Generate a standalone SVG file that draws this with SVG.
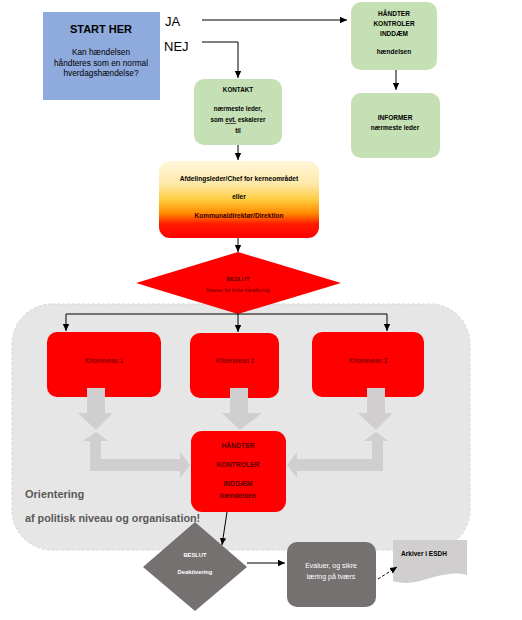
<svg xmlns="http://www.w3.org/2000/svg" width="522" height="620" viewBox="0 0 522 620">
<style>
text{font-family:"Liberation Sans",Arial,sans-serif;text-anchor:middle}
.b{font-weight:bold}
.green{fill:#c5e0b4}
.red{fill:#ff0000}
.dgray{fill:#767171}
.blk{fill:#d0cece}
.line{stroke:#000;stroke-width:1;fill:none}
.dr{fill:#5c0000}
.w{fill:#ffffff}
</style>
<defs>
<marker id="ah" markerWidth="8" markerHeight="8" refX="7" refY="4" orient="auto" markerUnits="userSpaceOnUse">
<path d="M0,0.8 L7,4 L0,7.2 Z" fill="#000"/>
</marker>
<linearGradient id="grad" x1="0" y1="0" x2="0" y2="1">
<stop offset="0" stop-color="#fff5da"/>
<stop offset="0.3" stop-color="#ffe9a8"/>
<stop offset="0.5" stop-color="#ffcc40"/>
<stop offset="0.68" stop-color="#ff8a00"/>
<stop offset="0.82" stop-color="#ff1a00"/>
<stop offset="1" stop-color="#ff0000"/>
</linearGradient>
</defs>

<g id="container">
<rect x="12" y="304" width="458" height="246" rx="40" fill="#e7e6e6" stroke="#d6d6d6" stroke-width="1" stroke-dasharray="3,2"/>
<text x="25" y="498" class="b" style="text-anchor:start;font-size:11px;fill:#595959">Orientering</text>
<text x="25" y="522" class="b" style="text-anchor:start;font-size:10.8px;fill:#595959">af politisk niveau og organisation!</text>
</g>

<g id="start">
<rect x="43" y="12" width="117" height="88" fill="#8faadc"/>
<text x="101" y="33" class="b" style="font-size:11px">START HER</text>
<text x="101" y="55" style="font-size:8.3px">Kan hændelsen</text>
<text x="101" y="65.5" style="font-size:8.3px">håndteres som en normal</text>
<text x="101" y="76" style="font-size:8.3px">hverdagshændelse?</text>
</g>

<g id="ja-label"><text x="165" y="26" style="text-anchor:start;font-size:13px">JA</text></g>
<g id="nej-label"><text x="164" y="51" style="text-anchor:start;font-size:13px">NEJ</text></g>

<g id="haandter-top">
<rect x="351" y="2" width="86" height="68" rx="10" class="green"/>
<text x="394" y="16" class="b" style="font-size:6.5px">HÅNDTER</text>
<text x="394" y="26" class="b" style="font-size:6.5px">KONTROLER</text>
<text x="394" y="36" class="b" style="font-size:6.5px">INDDÆM</text>
<text x="394" y="54" class="b" style="font-size:6.5px">hændelsen</text>
</g>

<g id="informer">
<rect x="351" y="93" width="89" height="65" rx="10" class="green"/>
<text x="395" y="120" class="b" style="font-size:6.5px">INFORMER</text>
<text x="395" y="130" class="b" style="font-size:6.5px">nærmeste leder</text>
</g>

<g id="kontakt">
<rect x="194" y="79" width="88" height="66" rx="10" class="green"/>
<text x="238" y="92" class="b" style="font-size:6.3px">KONTAKT</text>
<text x="238" y="111" class="b" style="font-size:6.3px">nærmeste leder,</text>
<text x="238" y="122" class="b" style="font-size:6.3px">som <tspan text-decoration="underline">evt.</tspan> eskalerer</text>
<text x="238" y="133" class="b" style="font-size:6.3px">til</text>
</g>

<g id="leder">
<rect x="159" y="161" width="160" height="77" rx="11" fill="url(#grad)"/>
<text x="239" y="181" class="b" style="font-size:6.6px">Afdelingsleder/Chef for kerneområdet</text>
<text x="239" y="199" class="b" style="font-size:6.6px">eller</text>
<text x="239" y="218" class="b" style="font-size:6.6px;fill:#3a0000">Kommunaldirektør/Direktion</text>
</g>

<g id="beslut1">
<polygon points="238,252 341,283 238,314 136,283" class="red"/>
<text x="238" y="281" class="b dr" style="font-size:5.8px">BESLUT</text>
<text x="238" y="292" class="dr" style="font-size:5.3px">Niveau for krise-håndtering</text>
</g>

<g id="krise1">
<rect x="47" y="332" width="114" height="65" rx="10" class="red"/>
<text x="104" y="363" class="dr" style="font-size:6.4px">Kriseniveau 1</text>
</g>
<g id="krise2">
<rect x="190" y="333" width="89" height="65" rx="10" class="red"/>
<text x="235" y="363" class="dr" style="font-size:6.4px">Kriseniveau 2</text>
</g>
<g id="krise3">
<rect x="312" y="332" width="112" height="65" rx="10" class="red"/>
<text x="368" y="363" class="dr" style="font-size:6.4px">Kriseniveau 3</text>
</g>

<g id="block-arrows">
<polygon class="blk" points="87,388 105,388 105,413 113,413 96,430 78,413 87,413"/>
<polygon class="blk" points="230,388 248,388 248,413 262,413 240,430 222,413 230,413"/>
<polygon class="blk" points="367,388 385,388 385,413 393,413 376,430 358,413 367,413"/>
<polygon class="blk" points="96,432 108,441 101,441 101,459 180,459 180,452 190,465 180,478 180,471 90,471 90,441 83,441"/>
<polygon class="blk" points="376,432 388,441 383,441 383,471 297,471 297,478 287,465 297,452 297,459 372,459 372,441 364,441"/>
</g>

<g id="haandter-center">
<rect x="191" y="431" width="95" height="81" rx="11" class="red"/>
<text x="238" y="448" class="b dr" style="font-size:6.8px">HÅNDTER</text>
<text x="238" y="467" class="b dr" style="font-size:6.8px">KONTROLER</text>
<text x="238" y="486" class="b dr" style="font-size:6.8px">INDDÆM</text>
<text x="238" y="498" class="b dr" style="font-size:6.8px">hændelsen</text>
</g>

<g id="beslut2">
<polygon points="195,522 247,567 195,611 143,567" class="dgray"/>
<text x="195" y="557" class="b w" style="font-size:5.8px">BESLUT</text>
<text x="195" y="574" class="b w" style="font-size:5.8px">Deaktivering</text>
</g>

<g id="evaluer">
<rect x="287" y="542" width="89" height="65" rx="10" class="dgray"/>
<text x="331" y="568" class="w" style="font-size:7px">Evaluer, og sikre</text>
<text x="331" y="579" class="w" style="font-size:7px">læring på tværs</text>
</g>

<g id="arkiver">
<path d="M393,540 H467 V575 C452,571 438,576 420,581 C408,584 399,583 393,581 Z" fill="#d0cece"/>
<text x="424" y="556" class="b" style="font-size:6.5px">Arkiver i ESDH</text>
</g>

<g id="connectors">
<path class="line" d="M202,20 H347" marker-end="url(#ah)"/>
<path class="line" d="M202,42 H238 V78" marker-end="url(#ah)"/>
<path class="line" d="M396,70 V90" marker-end="url(#ah)"/>
<path class="line" d="M238,145 V160" marker-end="url(#ah)"/>
<path class="line" d="M238,238 V252" marker-end="url(#ah)"/>
<path class="line" d="M66,314 H387"/>
<path class="line" d="M66,314 V331" marker-end="url(#ah)"/>
<path class="line" d="M238,314 V332" marker-end="url(#ah)"/>
<path class="line" d="M387,314 V331" marker-end="url(#ah)"/>
<path class="line" d="M227,512 L222,545" marker-end="url(#ah)"/>
<path class="line" d="M247,563 H285" marker-end="url(#ah)"/>
<path class="line" d="M378,579 L397,567" stroke-dasharray="3,2" marker-end="url(#ah)"/>
</g>
</svg>
